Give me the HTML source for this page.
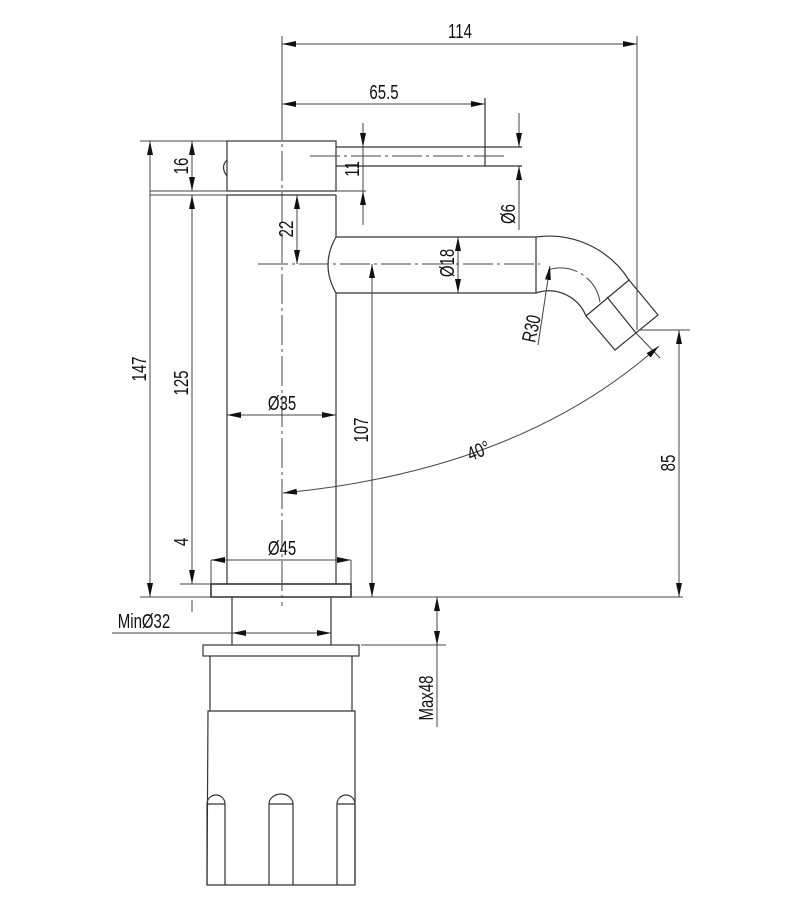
<!DOCTYPE html>
<html><head><meta charset="utf-8"><style>
html,body{margin:0;padding:0;background:#fff;}
svg{display:block;}
text{font-family:"Liberation Sans",sans-serif;font-size:20px;fill:#111;}
</style></head><body>
<svg width="800" height="912" viewBox="0 0 800 912" xmlns="http://www.w3.org/2000/svg">
<defs>
<marker id="a" viewBox="0 0 14 6" refX="14" refY="3" markerWidth="14" markerHeight="6" markerUnits="userSpaceOnUse" orient="auto-start-reverse"><path d="M0,0 L14,3 L0,6 z" fill="#111"/></marker>
</defs>
<g stroke="#333" stroke-width="1.2" fill="none">
<rect x="227" y="141" width="109" height="50"/>
<line x1="227" y1="195" x2="336" y2="195"/>
<path d="M227,160 Q220,167 227,176"/>
<line x1="227" y1="195" x2="227" y2="584"/>
<line x1="336" y1="195" x2="336" y2="237"/>
<line x1="336" y1="293" x2="336" y2="584"/>
<line x1="336" y1="147" x2="522" y2="147"/>
<line x1="336" y1="166" x2="522" y2="166"/>
<line x1="485" y1="98" x2="485" y2="166"/>
<path d="M336,237 L536,237 A95,95 0 0 1 629,280"/>
<path d="M336,237 Q320,265 336,293 L536,293 A40,40 0 0 1 586,316"/>
<line x1="536" y1="237" x2="536" y2="293"/>
<path d="M629,280 L658,315 L615,350 L586,316 Z"/>
<line x1="607" y1="297" x2="636" y2="333"/>
<rect x="211" y="584" width="140" height="13" stroke-width="1.6"/>
<line x1="232" y1="597" x2="232" y2="645"/>
<line x1="331" y1="597" x2="331" y2="645"/>
<rect x="203" y="645" width="156" height="11"/>
<line x1="210" y1="656" x2="210" y2="711"/>
<line x1="352" y1="656" x2="352" y2="711"/>
<path d="M208,711 L355,711 L355,885 L207,885 Z"/>
<path d="M207,885 L207,804 A9,9 0 0 1 225,804 L225,885"/>
<path d="M269,885 L269,804 A12,10 0 0 1 293,804 L293,885"/>
<path d="M337,885 L337,804 A9,9 0 0 1 355,804 L355,885"/>
<line x1="207" y1="804" x2="225" y2="804"/>
<line x1="269" y1="804" x2="293" y2="804"/>
<line x1="337" y1="804" x2="355" y2="804"/>
</g>
<g stroke="#444" stroke-width="1" stroke-dasharray="30,4,3,4" fill="none">
<line x1="282" y1="110" x2="282" y2="606"/>
<line x1="310" y1="156" x2="505" y2="156"/>
<line x1="258" y1="264" x2="540" y2="264"/>
<path d="M548,270 A40,40 0 0 1 600,302"/>
</g>
<g stroke="#444" stroke-width="1" fill="none">
<line x1="282" y1="36" x2="282" y2="110"/>
<line x1="637" y1="36" x2="637" y2="330"/>
<line x1="282" y1="44" x2="637" y2="44" marker-start="url(#a)" marker-end="url(#a)"/>
<line x1="282" y1="104" x2="485" y2="104" marker-start="url(#a)" marker-end="url(#a)"/>
<line x1="140" y1="141" x2="227" y2="141"/>
<line x1="150" y1="191" x2="227" y2="191"/>
<line x1="150" y1="195" x2="227" y2="195"/>
<line x1="180" y1="584" x2="211" y2="584"/>
<line x1="150" y1="141" x2="150" y2="597" marker-start="url(#a)" marker-end="url(#a)"/>
<line x1="192" y1="141" x2="192" y2="191" marker-start="url(#a)" marker-end="url(#a)"/>
<line x1="192" y1="195" x2="192" y2="584" marker-start="url(#a)" marker-end="url(#a)"/>
<line x1="192" y1="600" x2="192" y2="612"/>
<line x1="140" y1="597" x2="683" y2="597"/>
<line x1="297" y1="195" x2="297" y2="264" marker-start="url(#a)" marker-end="url(#a)"/>
<line x1="336" y1="191" x2="366" y2="191"/>
<line x1="363" y1="123" x2="363" y2="147" marker-end="url(#a)"/>
<line x1="363" y1="225" x2="363" y2="191" marker-end="url(#a)"/>
<line x1="363" y1="147" x2="363" y2="191"/>
<line x1="519" y1="113" x2="519" y2="147" marker-end="url(#a)"/>
<line x1="519" y1="230" x2="519" y2="166" marker-end="url(#a)"/>
<line x1="458" y1="237" x2="458" y2="293" marker-start="url(#a)" marker-end="url(#a)"/>
<line x1="227" y1="415" x2="336" y2="415" marker-start="url(#a)" marker-end="url(#a)"/>
<line x1="372" y1="264" x2="372" y2="597" marker-start="url(#a)" marker-end="url(#a)"/>
<line x1="211" y1="560" x2="211" y2="584"/>
<line x1="351" y1="560" x2="351" y2="584"/>
<line x1="211" y1="560" x2="351" y2="560" marker-start="url(#a)" marker-end="url(#a)"/>
<line x1="112" y1="633" x2="232" y2="633"/>
<line x1="232" y1="633" x2="331" y2="633" marker-start="url(#a)" marker-end="url(#a)"/>
<line x1="361" y1="645" x2="446" y2="645"/>
<line x1="437" y1="597" x2="437" y2="645" marker-start="url(#a)" marker-end="url(#a)"/>
<line x1="437" y1="645" x2="437" y2="727"/>
<line x1="640" y1="330" x2="690" y2="330"/>
<line x1="679" y1="330" x2="679" y2="597" marker-start="url(#a)" marker-end="url(#a)"/>
<line x1="636" y1="333" x2="660" y2="358"/>
<path d="M659,346 Q520,470 283,493" marker-start="url(#a)" marker-end="url(#a)"/>
<line x1="538" y1="345" x2="550" y2="266" marker-end="url(#a)"/>
</g>
<g>
<text x="460" y="38" text-anchor="middle" transform="translate(460,0) scale(0.75,1) translate(-460,0)">114</text>
<text x="384" y="99" text-anchor="middle" transform="translate(384,0) scale(0.75,1) translate(-384,0)">65.5</text>
<text transform="translate(188,166) rotate(-90) scale(0.75,1)" text-anchor="middle">16</text>
<text transform="translate(146,369) rotate(-90) scale(0.75,1)" text-anchor="middle">147</text>
<text transform="translate(188,383) rotate(-90) scale(0.75,1)" text-anchor="middle">125</text>
<text transform="translate(188,542) rotate(-90) scale(0.75,1)" text-anchor="middle">4</text>
<text transform="translate(293,229) rotate(-90) scale(0.75,1)" text-anchor="middle">22</text>
<text transform="translate(359,169) rotate(-90) scale(0.75,1)" text-anchor="middle">11</text>
<text transform="translate(515,214) rotate(-90) scale(0.75,1)" text-anchor="middle">Ø6</text>
<text transform="translate(454,263) rotate(-90) scale(0.75,1)" text-anchor="middle">Ø18</text>
<text transform="translate(368,430) rotate(-90) scale(0.75,1)" text-anchor="middle">107</text>
<text transform="translate(675,463) rotate(-90) scale(0.75,1)" text-anchor="middle">85</text>
<text transform="translate(433,698) rotate(-90) scale(0.75,1)" text-anchor="middle">Max48</text>
<text transform="translate(538,330) rotate(-78) scale(0.75,1)" text-anchor="middle">R30</text>
<text transform="translate(481,457) rotate(-22) scale(0.75,1)" text-anchor="middle">40°</text>
<text x="282" y="410" text-anchor="middle" transform="translate(282,0) scale(0.75,1) translate(-282,0)">Ø35</text>
<text x="282" y="555" text-anchor="middle" transform="translate(282,0) scale(0.75,1) translate(-282,0)">Ø45</text>
<text x="144" y="628" text-anchor="middle" transform="translate(144,0) scale(0.75,1) translate(-144,0)">MinØ32</text>
</g>
</svg>
</body></html>
